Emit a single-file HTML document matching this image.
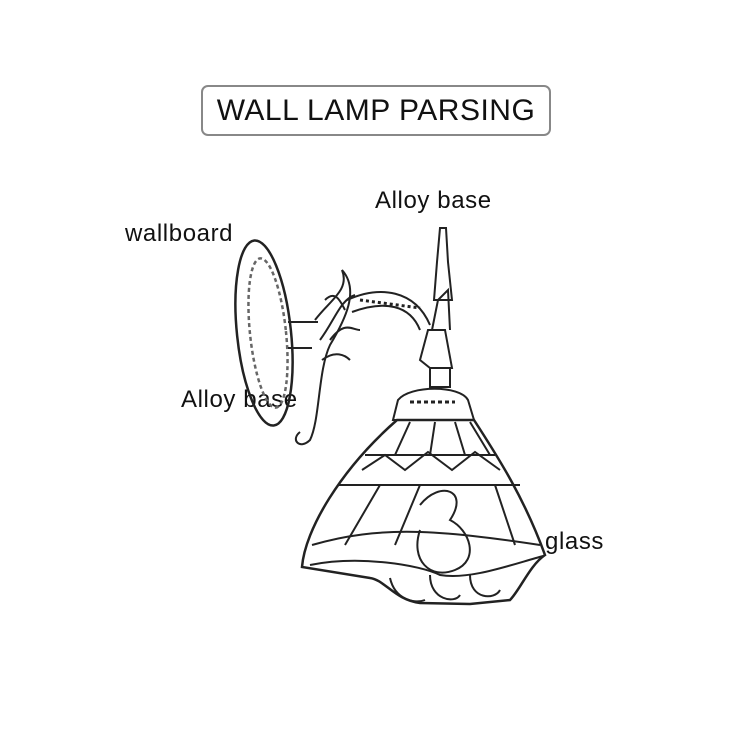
<!DOCTYPE html>
<html><head><style>
body{margin:0;background:#fff;width:750px;height:750px;overflow:hidden;font-family:"Liberation Sans","DejaVu Sans",sans-serif}
.t{position:absolute;color:#111;font-size:24px;line-height:1;white-space:nowrap;letter-spacing:0.6px}
.box{position:absolute;left:201px;top:85px;width:346px;height:47px;border:2px solid #888;border-radius:7px;text-align:center;font-size:30px;line-height:48px;color:#111;letter-spacing:0.5px}
</style></head><body>
<div class="box">WALL LAMP PARSING</div>
<div class="t" style="left:375px;top:189px">Alloy base</div>
<div class="t" style="left:125px;top:222px">wallboard</div>
<div class="t" style="left:181px;top:388px">Alloy base</div>
<div class="t" style="left:545px;top:530px">glass</div>
<svg width="750" height="750" style="position:absolute;left:0;top:0" fill="none" stroke="#222" stroke-width="2">
<ellipse cx="264" cy="333" rx="27" ry="93" transform="rotate(-6 264 333)" stroke-width="2.5"/>
<ellipse cx="268" cy="333" rx="18" ry="75" transform="rotate(-6 268 333)" stroke="#666" stroke-dasharray="4 3" stroke-width="2.5"/>
<path d="M288 322 L318 322 M288 348 L312 348"/>
<path d="M315 320 C330 300 350 290 342 270 C360 290 345 320 330 345 C318 370 320 420 310 440 C300 450 290 440 300 432"/>
<path d="M320 340 C335 320 340 300 355 295 M330 340 C345 320 352 330 360 330 M325 300 C335 290 340 300 345 310 M322 360 C335 350 345 355 350 360"/>
<path d="M347 300 C380 285 415 290 430 325 M352 312 C385 300 410 305 420 330"/>
<path d="M360 300 L420 308" stroke-dasharray="3 3" stroke-width="3"/>
<path d="M428 330 L420 360 L430 368 L452 368 L445 330 Z M432 330 L438 300 L448 290 L450 330"/>
<path d="M437 262 L440 228 L446 228 L448 262 L452 300 L434 300 Z"/>
<path d="M430 368 L430 387 L450 387 L450 368"/>
<path d="M398 400 C410 385 460 385 468 400 L474 420 L393 420 Z"/>
<path d="M410 402 L455 402" stroke-dasharray="4 3" stroke-width="3"/>
<path d="M397 420 L474 420 C500 460 525 500 545 555 C530 565 520 590 510 600 L470 604 L420 603 C395 600 385 580 370 578 L302 567 C305 530 340 470 397 420 Z" stroke-width="2.5"/>
<path d="M365 455 L495 455 M338 485 L520 485 M312 545 C380 525 440 530 540 545"/>
<path d="M362 470 L385 455 L405 470 L428 452 L452 470 L475 452 L500 470"/>
<path d="M410 422 L395 455 M435 422 L430 455 M455 422 L465 455 M470 422 L490 455"/>
<path d="M380 485 L345 545 M420 485 L395 545 M495 485 L515 545"/>
<path d="M420 505 C440 480 470 490 450 520 C470 530 480 560 455 570 C430 580 410 560 420 530"/>
<path d="M310 565 C360 555 420 565 440 575 C470 580 510 565 543 556"/>
<path d="M390 578 C395 600 415 604 425 600 M430 575 C430 600 455 604 460 595 M470 575 C470 600 495 600 500 590"/>
</svg>
</body></html>
